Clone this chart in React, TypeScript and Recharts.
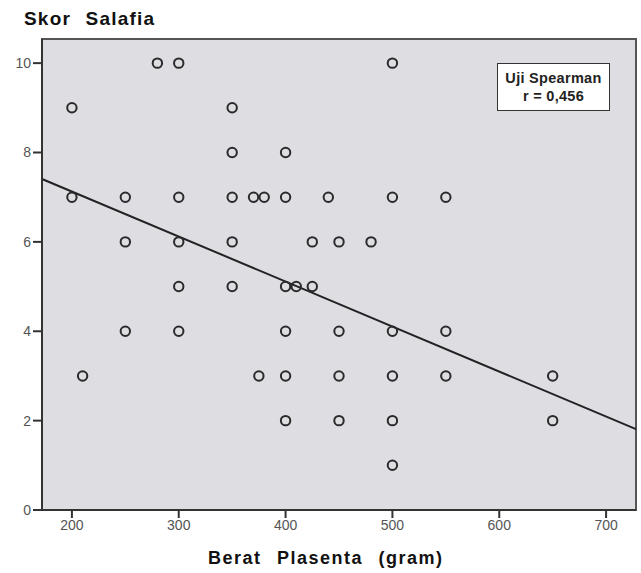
import { ScatterChart, Scatter, XAxis, YAxis, ReferenceArea, ReferenceLine } from "recharts";

const beratPlasenta = [
  200, 200, 210, 250, 250, 250, 280, 300, 300, 300, 300, 300, 350, 350, 350, 350, 350, 370, 380, 375, 400, 400, 400,
  400, 400, 400, 410, 425, 425, 440, 450, 450, 450, 450, 480, 500, 500, 500, 500, 500, 500, 550, 550, 550, 650, 650,
];
const skorSalafia = [
  9, 7, 3, 7, 6, 4, 10, 10, 7, 6, 5, 4, 9, 8, 7, 6, 5, 7, 7, 3, 8, 7, 5, 4, 3, 2, 5, 6, 5, 7, 6, 4, 3, 2, 6, 10, 7, 4,
  3, 2, 1, 7, 4, 3, 3, 2,
];
const xTicks = [200, 300, 400, 500, 600, 700];
const yTicks = [0, 2, 4, 6, 8, 10];
const xDomain = [172, 728];
const yDomain = [0, 10.54];

// fit line shown in the original figure
const fitIntercept = 9.14;
const fitSlope = -0.01007;

const points = beratPlasenta.map((x, i) => ({ x, y: skorSalafia[i] }));
const fitLine = xDomain.map((x) => ({ x, y: fitIntercept + fitSlope * x }));

const font = '"Liberation Sans", Arial, sans-serif';

const Ring = (props: any) => (
  <circle cx={props.cx} cy={props.cy} r={4.7} fill="none" stroke="#2a2a2a" strokeWidth={2} />
);

export default function App() {
  return (
    <div style={{ position: "absolute", left: 0, top: 0, width: 641, height: 573, background: "#fff", fontFamily: font }}>
      <ScatterChart width={641} height={573} margin={{ top: 39, right: 5, bottom: 33, left: 0 }}>
        <ReferenceArea
          x1={xDomain[0]}
          x2={xDomain[1]}
          y1={yDomain[0]}
          y2={yDomain[1]}
          fill="#dddde2"
          fillOpacity={1}
          stroke="#555"
          strokeWidth={2}
        />
        <XAxis
          type="number"
          dataKey="x"
          domain={xDomain}
          ticks={xTicks}
          allowDataOverflow
          height={30}
          tickSize={8}
          axisLine={{ stroke: "#333", strokeWidth: 2 }}
          tickLine={{ stroke: "#333", strokeWidth: 2 }}
          tick={{ fill: "#555", fontSize: 14, fontFamily: font }}
        />
        <YAxis
          type="number"
          dataKey="y"
          domain={yDomain}
          ticks={yTicks}
          allowDataOverflow
          width={42}
          tickSize={9}
          axisLine={{ stroke: "#333", strokeWidth: 2 }}
          tickLine={{ stroke: "#333", strokeWidth: 2 }}
          tick={{ fill: "#555", fontSize: 14, fontFamily: font }}
        />
        <ReferenceLine segment={fitLine} stroke="#222" strokeWidth={2} />
        <Scatter data={points} shape={Ring} isAnimationActive={false} />
      </ScatterChart>
      <div
        style={{
          position: "absolute",
          left: 24,
          top: 8,
          fontSize: 19,
          fontWeight: "bold",
          letterSpacing: 1.2,
          wordSpacing: 8,
          color: "#111",
        }}
      >
        Skor Salafia
      </div>
      <div
        style={{
          position: "absolute",
          left: 208,
          top: 548,
          fontSize: 18,
          fontWeight: "bold",
          letterSpacing: 1.5,
          wordSpacing: 9,
          color: "#111",
          whiteSpace: "nowrap",
        }}
      >
        Berat Plasenta (gram)
      </div>
      <div
        style={{
          position: "absolute",
          left: 497,
          top: 63,
          width: 113,
          height: 48,
          border: "1px solid #333",
          background: "#fff",
          fontSize: 14.5,
          fontWeight: "bold",
          letterSpacing: 0.3,
          color: "#222",
          textAlign: "center",
          lineHeight: "18px",
          paddingTop: 5,
          boxSizing: "border-box",
        }}
      >
        Uji Spearman
        <br />r = 0,456
      </div>
    </div>
  );
}
